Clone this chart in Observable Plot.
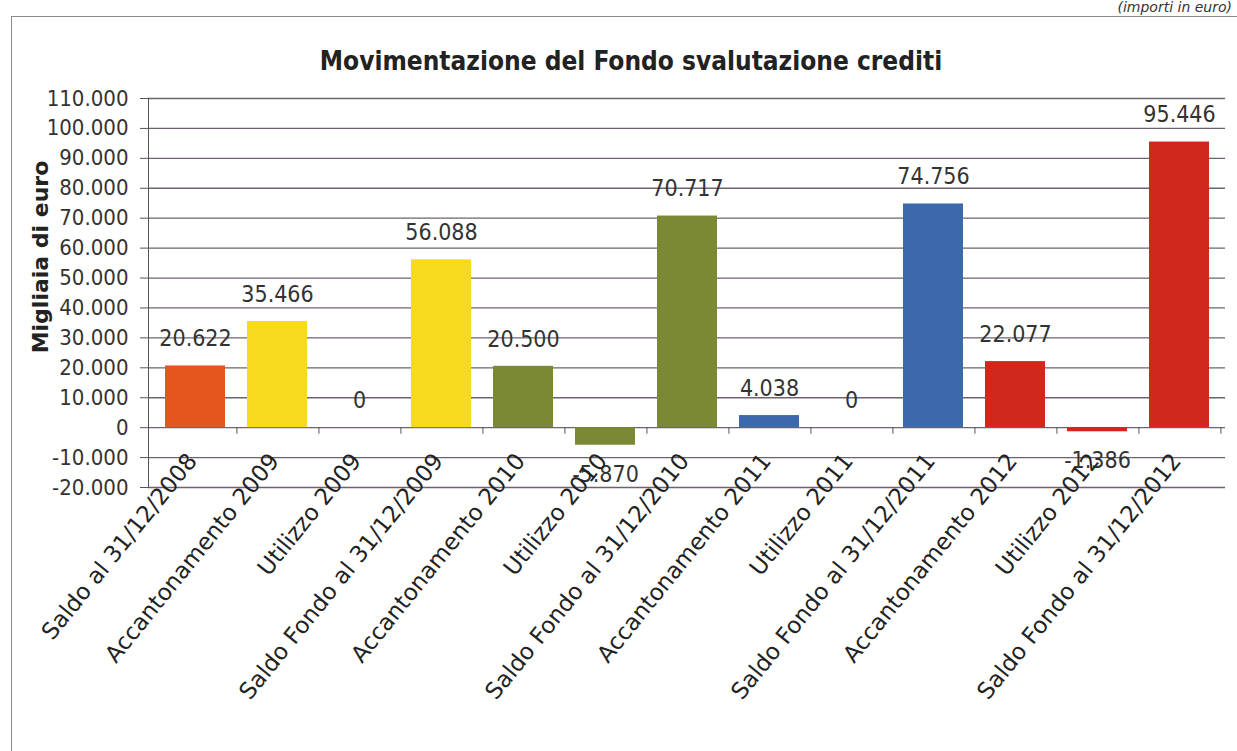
<!DOCTYPE html>
<html><head><meta charset="utf-8">
<script src="https://cdn.jsdelivr.net/npm/d3@7"></script>
<script src="https://cdn.jsdelivr.net/npm/@observablehq/plot@0.6"></script>
<style>
body{margin:0;background:#fff;font-family:"DejaVu Sans Condensed","DejaVu Sans",sans-serif;}
#wrap{position:relative;width:1237px;height:751px;overflow:hidden;background:#fff;}
#frame{position:absolute;left:11px;top:16px;width:1300px;height:800px;border:1.5px solid #8c8c8c;box-sizing:border-box;}
#note{position:absolute;right:5px;top:-1px;font-style:italic;font-size:14px;line-height:16px;color:#333;font-family:"DejaVu Sans","Noto Sans",sans-serif;}
#title{position:absolute;left:631px;top:46px;transform:translateX(-50%);white-space:nowrap;font-weight:bold;font-size:26px;color:#222;}
#ytitle{position:absolute;left:40px;top:257px;transform:translate(-50%,-50%) rotate(-90deg);white-space:nowrap;font-weight:bold;font-size:22px;color:#222;font-family:"DejaVu Sans",sans-serif;}
#chart{position:absolute;left:0;top:0;}
</style>
</head>
<body>
<div id="wrap">
  <div id="frame"></div>
  <div id="note">(importi in euro)</div>
  <div id="title">Movimentazione del Fondo svalutazione crediti</div>
  <div id="chart"></div>
  <div id="ytitle">Migliaia di euro</div>
</div>
<script>
const categorie = [
  "Saldo al 31/12/2008",
  "Accantonamento 2009",
  "Utilizzo 2009",
  "Saldo Fondo al 31/12/2009",
  "Accantonamento 2010",
  "Utilizzo 2010",
  "Saldo Fondo al 31/12/2010",
  "Accantonamento 2011",
  "Utilizzo 2011",
  "Saldo Fondo al 31/12/2011",
  "Accantonamento 2012",
  "Utilizzo 2012",
  "Saldo Fondo al 31/12/2012"
];
const valori = [20622, 35466, 0, 56088, 20500, -5870, 70717, 4038, 0, 74756, 22077, -1386, 95446];
const gruppi = ["2008", "2009", "2009", "2009", "2010", "2010", "2010", "2011", "2011", "2011", "2012", "2012", "2012"];
const gruppiDominio = ["2008", "2009", "2010", "2011", "2012"];
const colori = ["#e3571f", "#f7da1d", "#7b8934", "#3b69ab", "#d2281c"];
const tickY = [-20000, -10000, 0, 10000, 20000, 30000, 40000, 50000, 60000, 70000, 80000, 90000, 100000, 110000];

const fmt = d3.formatLocale({decimal: ",", thousands: ".", grouping: [3], currency: ["", "€"], minus: "-"}).format(",d");
const data = categorie.map((c, i) => ({categoria: c, valore: valori[i], gruppo: gruppi[i]}));

const W = 1237, H = 751, ML = 148, MR = 12, MT = 98, MB = 264;
const step = (W - ML - MR) / categorie.length;
const font = '"DejaVu Sans Condensed","DejaVu Sans",sans-serif';

const chart = Plot.plot({
  width: W, height: H,
  marginLeft: ML, marginRight: MR, marginTop: MT, marginBottom: MB,
  style: {fontFamily: font, background: "transparent", overflow: "visible"},
  x: {domain: categorie, paddingInner: 0.27, paddingOuter: 0.135, axis: null},
  y: {domain: [-20000, 110000], axis: null},
  color: {domain: gruppiDominio, range: colori},
  marks: [
    Plot.gridY(tickY, {stroke: "#6e6270", strokeOpacity: 1, strokeWidth: 1.3}),
    Plot.axisY(tickY, {tickFormat: fmt, tickSize: 8, tickPadding: 12, fontSize: 22, label: null, color: "#333", stroke: "#555"}),
    Plot.frame({anchor: "left", stroke: "#555"}),
    Plot.barY(data, {x: "categoria", y: "valore", fill: "gruppo"}),
    Plot.ruleX(categorie, {x: d => d, y1: 0, y2: -2200, dx: step / 2, stroke: "#555"}),
    Plot.text(data.filter(d => d.valore >= 0), {x: "categoria", y: "valore", text: d => fmt(d.valore), dy: -27, fontSize: 23, fill: "#333"}),
    Plot.text(data.filter(d => d.valore < 0), {x: "categoria", y: "valore", text: d => fmt(d.valore), dy: 29, fontSize: 23, fill: "#333"}),
    Plot.text(data, {x: "categoria", y: () => 0, text: "categoria", rotate: -51, textAnchor: "end", dx: -3, dy: 29, fontSize: 23, fill: "#222", fontFamily: '"DejaVu Sans",sans-serif'})
  ]
});
document.getElementById("chart").appendChild(chart);
</script>
</body></html>
